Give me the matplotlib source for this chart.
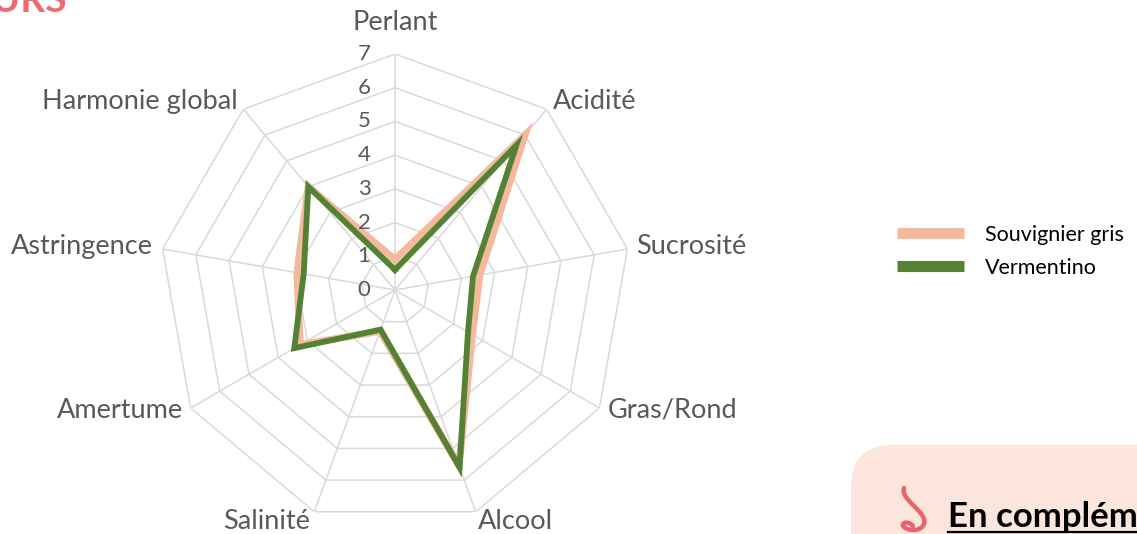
import numpy as np
import matplotlib.pyplot as plt
from matplotlib.patches import FancyBboxPatch
from matplotlib.path import Path
from matplotlib.patches import PathPatch

# ---- données du radar ----
criteres = ['Perlant', 'Acidité', 'Sucrosité', 'Gras/Rond', 'Alcool',
            'Salinité', 'Amertume', 'Astringence', 'Harmonie global']
souvignier = [0.9, 6.0, 2.55, 2.65, 5.55, 1.3, 3.25, 2.95, 4.0]
vermentino = [0.6, 5.6, 2.35, 2.5, 5.6, 1.25, 3.45, 2.75, 4.0]
graduations = [0, 1, 2, 3, 4, 5, 6, 7]

GRIS = '#D9D9D9'
TEXTE = '#595959'
ROSE = '#F4B89C'
VERT = '#548235'

plt.rcParams['font.family'] = ['Lato', 'DejaVu Sans']

fig = plt.figure(figsize=(11.37, 5.34), dpi=100)

# calque de décor en pixels (fond, encadré, titre)
deco = fig.add_axes([0, 0, 1, 1], zorder=0)
deco.set_xlim(0, 1137)
deco.set_ylim(534, 0)
deco.axis('off')

ax = fig.add_axes([159 / 1137, 8 / 534, 472 / 1137, 472 / 534],
                  projection='polar', zorder=2)
ax.patch.set_alpha(0)
ax.set_theta_offset(np.pi / 2)
ax.set_theta_direction(-1)
ax.set_ylim(0, 7)
ax.grid(False)
ax.spines['polar'].set_visible(False)
ax.set_xticks([])
ax.set_yticks([])

n = len(criteres)
angles = np.linspace(0, 2 * np.pi, n, endpoint=False)
angles_f = np.append(angles, angles[0])

# grille en nonagones + rayons
for g in graduations[1:]:
    ax.plot(angles_f, [g] * (n + 1), color=GRIS, lw=1.1, zorder=1)
for a in angles:
    ax.plot([a, a], [0, 7], color=GRIS, lw=1.1, zorder=1)

# séries
ax.plot(angles_f, souvignier + souvignier[:1], color=ROSE, lw=5.2,
        solid_joinstyle='miter', label='Souvignier gris', zorder=3)
ax.plot(angles_f, vermentino + vermentino[:1], color=VERT, lw=4.2,
        solid_joinstyle='miter', label='Vermentino', zorder=4)

# graduations
for g in graduations:
    ax.annotate(str(g), (0, g), xytext=(-31, 0), textcoords='offset pixels',
                ha='center', va='center', fontsize=16, color=TEXTE)

# libellés des axes
decal = {'Perlant': ('center', 0, 32), 'Acidité': ('left', 6, 8),
         'Sucrosité': ('left', 9, 3), 'Gras/Rond': ('left', 8, -2),
         'Alcool': ('left', 2, -10), 'Salinité': ('right', -4, -10),
         'Amertume': ('right', -8, -2), 'Astringence': ('right', -10, 3),
         'Harmonie global': ('right', -6, 8)}
for a, c in zip(angles, criteres):
    ha, dx, dy = decal[c]
    ax.annotate(c, (a, 7), xytext=(dx, dy), textcoords='offset pixels',
                ha=ha, va='center', fontsize=19.5, color=TEXTE)

# légende
ax.legend(loc='upper left', bbox_to_anchor=(897 / 1137, 1 - 225 / 534),
          bbox_transform=fig.transFigure, frameon=False, fontsize=15.5,
          handlelength=3.1, handletextpad=1.0, labelspacing=0.6,
          borderpad=0, borderaxespad=0)
for h in ax.get_legend().get_lines():
    h.set_linewidth(8)
    h.set_solid_capstyle('butt')

# encadré rose en bas à droite
deco.add_patch(FancyBboxPatch((851, 445), 400, 200,
                              boxstyle='round,pad=0,rounding_size=42',
                              fc='#FBE5DC', ec='none'))
deco.text(948, 527, 'En complément', fontsize=25, fontweight='bold',
          color='black', va='baseline', ha='left')
deco.plot([948, 1137], [532, 532], color='black', lw=1.6)

# petit nez
nez = Path([(904, 488), (900, 500), (928, 512), (924, 524),
            (921, 532), (908, 531), (904, 527),
            (900, 523), (908, 520), (913, 526)],
           [Path.MOVETO, Path.CURVE4, Path.CURVE4, Path.CURVE4,
            Path.CURVE4, Path.CURVE4, Path.CURVE4,
            Path.CURVE4, Path.CURVE4, Path.CURVE4])
deco.add_patch(PathPatch(nez, fc='none', ec='#E8636B', lw=3.2,
                         capstyle='round'))

# titre coupé en haut à gauche
deco.text(67, 12, 'DESCRIPTEURS', fontsize=28, fontweight='bold',
          color='#EE6B73', ha='right', va='baseline')

fig.savefig('out.png', dpi=100)
